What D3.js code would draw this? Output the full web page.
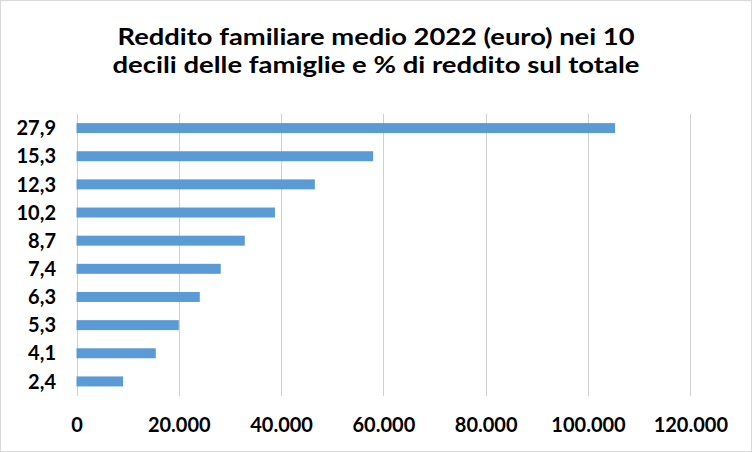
<!DOCTYPE html>
<html>
<head>
<meta charset="utf-8">
<script src="https://cdn.jsdelivr.net/npm/d3@7"></script>
<style>
  html, body { margin: 0; padding: 0; background: #fff; }
  svg { display: block; }
</style>
</head>
<body>
<script>
const categories = ["27,9", "15,3", "12,3", "10,2", "8,7", "7,4", "6,3", "5,3", "4,1", "2,4"];
const values = [105300, 58000, 46600, 38800, 32900, 28200, 24100, 20000, 15500, 9100];
const xTicks = [0, 20000, 40000, 60000, 80000, 100000, 120000];
const xTickLabels = ["0", "20.000", "40.000", "60.000", "80.000", "100.000", "120.000"];
const titleLines = ["Reddito familiare medio 2022 (euro) nei 10", "decili delle famiglie e % di reddito sul totale"];

const W = 752, H = 452;
const svg = d3.select("body").append("svg").attr("width", W).attr("height", H);

svg.append("rect").attr("x", 0.5).attr("y", 0.5).attr("width", W - 1).attr("height", H - 1)
  .attr("fill", "#fff").attr("stroke", "#d9d9d9").attr("stroke-width", 1);

const font = "Lato, 'Open Sans', sans-serif";

// Title
const titleW = [517, 527];
const titleY = [44.5, 72.5];
titleLines.forEach((t, i) => {
  svg.append("text")
    .attr("x", 376).attr("y", titleY[i])
    .attr("text-anchor", "middle")
    .attr("font-family", font).attr("font-weight", "bold")
    .attr("font-size", 23).attr("fill", "#000")
    .attr("textLength", titleW[i]).attr("lengthAdjust", "spacingAndGlyphs")
    .text(t);
});

const x = d3.scaleLinear().domain([0, 120000]).range([76.5, 690.3]);
const y = d3.scaleBand().domain(categories).range([114, 395.5]).paddingInner(0.645).paddingOuter(0.3225);

// Gridlines
svg.append("g").selectAll("line").data(xTicks).join("line")
  .attr("x1", d => Math.round(x(d)) + 0.5).attr("x2", d => Math.round(x(d)) + 0.5)
  .attr("y1", 114).attr("y2", 396)
  .attr("stroke", "#d0d0d0").attr("stroke-width", 1);

// Bars
svg.append("g").selectAll("rect").data(categories).join("rect")
  .attr("x", x(0)).attr("y", d => y(d))
  .attr("width", (d, i) => x(values[i]) - x(0))
  .attr("height", y.bandwidth())
  .attr("fill", "#5b9bd5");

// Y axis labels
const yAxis = d3.axisLeft(y).tickSize(0).tickPadding(0);
const gy = svg.append("g").attr("transform", "translate(56,0)").call(yAxis);
gy.select(".domain").remove();
gy.selectAll("text").attr("font-family", font).attr("font-weight", "bold")
  .attr("font-size", 20).attr("fill", "#000").attr("dy", "0.36em");

// X axis labels
const xAxis = d3.axisBottom(x).tickValues(xTicks).tickSize(0).tickPadding(0)
  .tickFormat((d, i) => xTickLabels[i]);
const gx = svg.append("g").attr("transform", "translate(0,418)").call(xAxis);
gx.select(".domain").remove();
gx.selectAll("text").attr("font-family", font).attr("font-weight", "bold")
  .attr("font-size", 20).attr("fill", "#000").attr("dy", "0.71em");
</script>
</body>
</html>
